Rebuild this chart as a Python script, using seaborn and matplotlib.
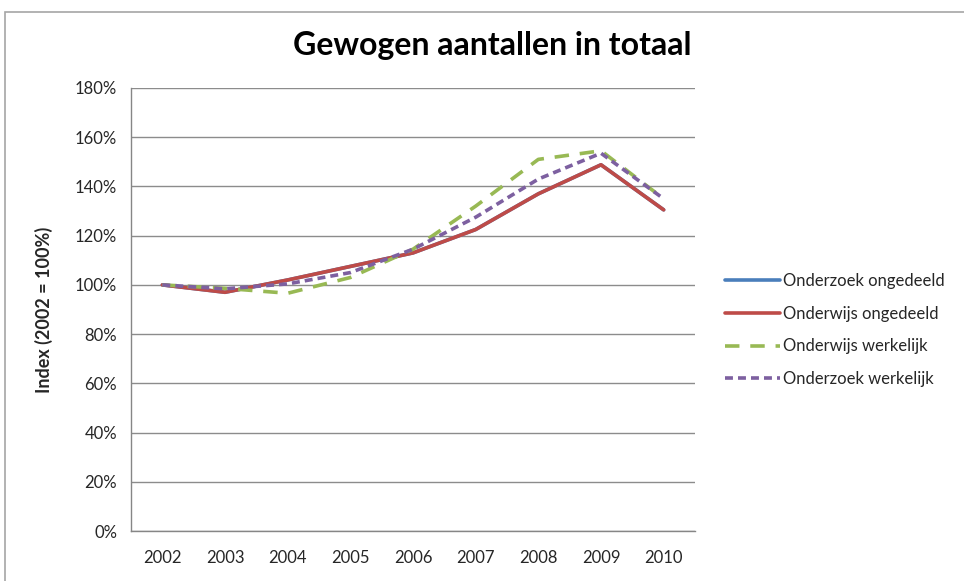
import numpy as np
import pandas as pd
import matplotlib
matplotlib.use("Agg")
import matplotlib.pyplot as plt
import seaborn as sns
from matplotlib.patches import Rectangle
from matplotlib.ticker import FixedLocator, PercentFormatter

# data (index, 2002 = 100%)
years = ["2002", "2003", "2004", "2005", "2006", "2007", "2008", "2009", "2010"]
onderzoek_ongedeeld = [100, 97, 102, 107.5, 113, 122.5, 137, 148.8, 130.5]
onderwijs_ongedeeld = [100, 97, 102, 107.5, 113, 122.5, 137, 148.8, 130.5]
onderwijs_werkelijk = [100, 98.6, 96.6, 103, 114.5, 132, 151, 154.5, 135]
onderzoek_werkelijk = [100, 98.4, 100.4, 105, 114.5, 127.5, 143, 153.5, 135]

series_names = ["Onderzoek ongedeeld", "Onderwijs ongedeeld",
                "Onderwijs werkelijk", "Onderzoek werkelijk"]
series_vals = [onderzoek_ongedeeld, onderwijs_ongedeeld,
               onderwijs_werkelijk, onderzoek_werkelijk]

rows = []
for name, vals in zip(series_names, series_vals):
    for i, v in enumerate(vals):
        rows.append({"pos": i, "Jaar": years[i], "Reeks": name, "Index": v})
df = pd.DataFrame(rows)

sns.set_style("white")
plt.rcParams["font.family"] = ["Lato", "DejaVu Sans"]

fig = plt.figure(figsize=(9.64, 5.81), dpi=100)
W, H = 964, 581

# outer chart border
fig.patches.append(Rectangle((5 / W, -0.1), 1.2, 1 - 12 / H + 0.1,
                             transform=fig.transFigure, fill=False,
                             edgecolor="#a6a6a6", linewidth=1.2))

ax = fig.add_axes([131 / W, (H - 531) / H, 564 / W, 443 / H])

colors = {"Onderzoek ongedeeld": "#4a7ebb", "Onderwijs ongedeeld": "#be4b48",
          "Onderwijs werkelijk": "#98b954", "Onderzoek werkelijk": "#7d60a0"}
dashes = {"Onderzoek ongedeeld": "", "Onderwijs ongedeeld": "",
          "Onderwijs werkelijk": (4, 3), "Onderzoek werkelijk": (2.2, 1.4)}

sns.lineplot(data=df, x="pos", y="Index", hue="Reeks", style="Reeks",
             palette=colors, dashes=dashes, hue_order=series_names,
             style_order=series_names, linewidth=2.6, ax=ax, legend=True)

tick_col = "#262626"
ax.set_xlim(-0.5, 8.5)
ax.set_ylim(0, 180)
ax.set_yticks(np.arange(0, 181, 20))
ax.yaxis.set_major_formatter(PercentFormatter(decimals=0))
ax.set_xticks(range(len(years)))
ax.set_xticklabels(years)
ax.xaxis.set_minor_locator(FixedLocator(np.arange(-0.5, 9, 1)))
ax.tick_params(axis="x", which="major", length=0, pad=14, labelsize=12, labelcolor=tick_col)
ax.tick_params(axis="x", which="minor", length=5, color="#868686", direction="out")
ax.tick_params(axis="y", length=5, color="#868686", direction="out", labelsize=12,
               labelcolor=tick_col, pad=5)
ax.grid(axis="y", color="#8c8c8c", linewidth=1)
for s in ["top", "right"]:
    ax.spines[s].set_visible(False)
for s in ["left", "bottom"]:
    ax.spines[s].set_color("#868686")
    ax.spines[s].set_linewidth(1)
ax.set_xlabel("")
ax.set_ylabel("Index (2002 = 100%)", fontsize=13, fontweight="bold", labelpad=16)

fig.text(492 / W, 1 - 46 / H, "Gewogen aantallen in totaal", ha="center", va="center",
         fontsize=23, fontweight="bold", color="black")

handles, labels = ax.get_legend_handles_labels()
ax.legend(handles, labels, loc="center left", bbox_to_anchor=(725 / W, 1 - 330 / H),
          bbox_transform=fig.transFigure, frameon=False, fontsize=12,
          handlelength=3.3, labelspacing=1.0, handletextpad=0.2,
          borderpad=0, borderaxespad=0, labelcolor=tick_col)

fig.savefig("out.png", dpi=100)
